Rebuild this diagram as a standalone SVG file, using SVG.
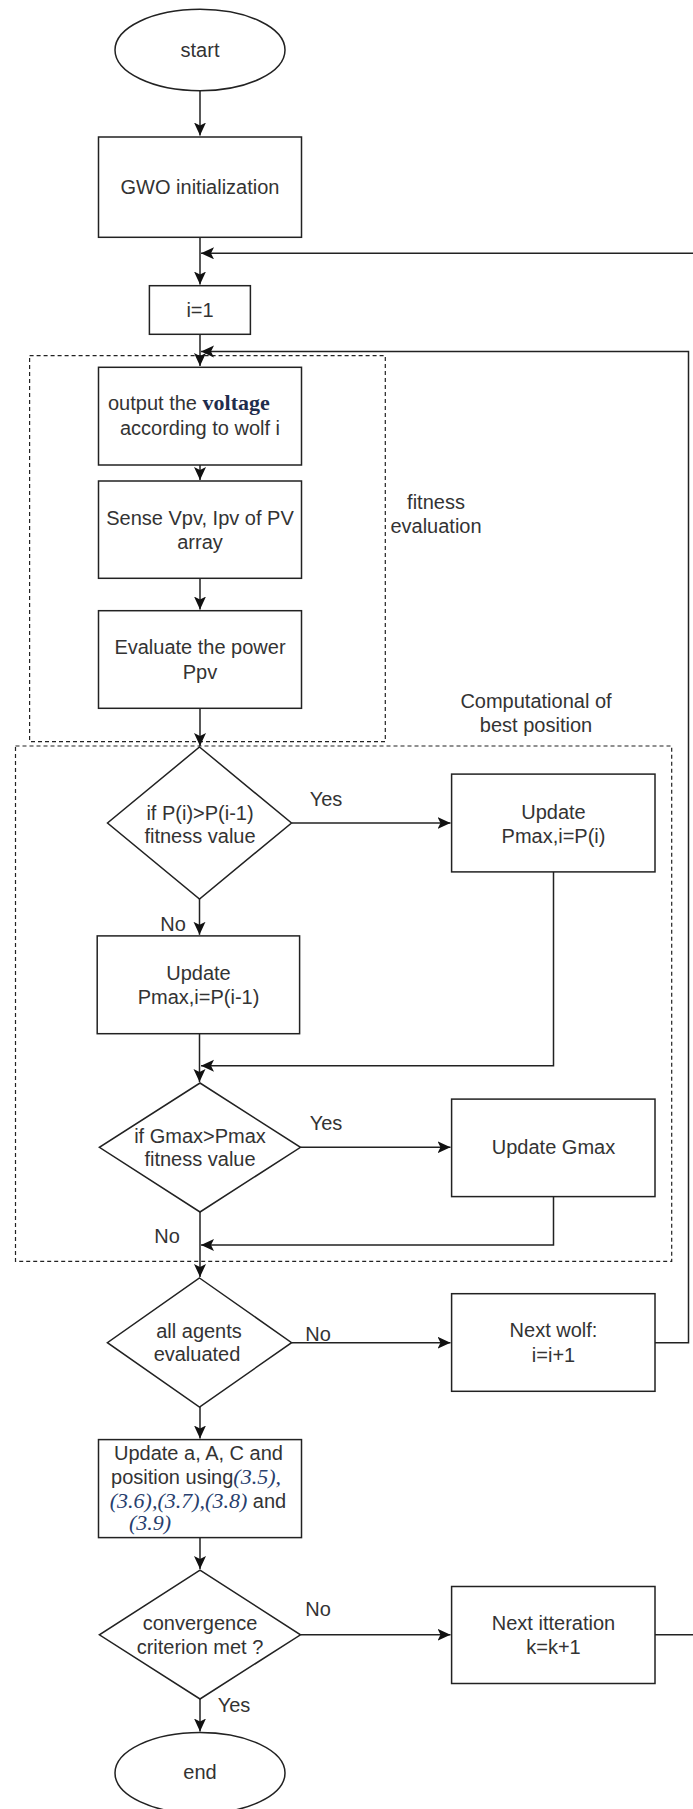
<svg xmlns="http://www.w3.org/2000/svg" width="693" height="1809" viewBox="0 0 693 1809">
<style>
.shape{fill:#ffffff;stroke:#222;stroke-width:1.5}
.group{fill:none;stroke:#222;stroke-width:1.2;stroke-dasharray:4 3}
.edge{fill:none;stroke:#222;stroke-width:1.5}
text{font-family:"Liberation Sans",Arial,sans-serif;font-size:20px;fill:#333;text-anchor:middle}
.serif{font-family:"Liberation Serif","Times New Roman",serif;fill:#1f2d4d}
.eq{font-family:"Liberation Serif","Times New Roman",serif;font-style:italic;font-size:22px;fill:#28406e}
</style>
<defs>
<marker id="arr" markerUnits="userSpaceOnUse" markerWidth="14" markerHeight="13" refX="13" refY="6" orient="auto">
<path d="M0,0 L13,6 L0,12 L3,6 z" fill="#111"/>
</marker>
</defs>
<rect width="693" height="1809" fill="#ffffff"/>

<g id="groups">
<rect id="fitness-group" class="group" x="29.6" y="355.7" width="355.7" height="386"/>
<rect id="best-group" class="group" x="15.5" y="746" width="656.2" height="515.3"/>
<g id="fitness-label"><text x="436" y="509">fitness</text><text x="436" y="533">evaluation</text></g>
<g id="best-label"><text x="536" y="708">Computational of</text><text x="536" y="732">best position</text></g>
</g>

<g id="connectors">
<path class="edge" d="M200,91 V135.5" marker-end="url(#arr)"/>
<path class="edge" d="M200,237.3 V284.5" marker-end="url(#arr)"/>
<path class="edge" d="M655,1634.8 H720 V253.3 H201" marker-end="url(#arr)"/>
<path class="edge" d="M200,334.3 V366" marker-end="url(#arr)"/>
<path class="edge" d="M655,1342.7 H688.5 V351.5 H201" marker-end="url(#arr)"/>
<path class="edge" d="M200,465 V480" marker-end="url(#arr)"/>
<path class="edge" d="M200,578.3 V609.5" marker-end="url(#arr)"/>
<path class="edge" d="M200,708.3 V746" marker-end="url(#arr)"/>
<path class="edge" d="M291.5,823 H450.5" marker-end="url(#arr)"/>
<path class="edge" d="M199.5,899 V934.8" marker-end="url(#arr)"/>
<path class="edge" d="M199.5,1033.7 V1082" marker-end="url(#arr)"/>
<path class="edge" d="M553.5,871.9 V1065.7 H201" marker-end="url(#arr)"/>
<path class="edge" d="M300.5,1147.3 H450.5" marker-end="url(#arr)"/>
<path class="edge" d="M553.5,1196.6 V1245 H201" marker-end="url(#arr)"/>
<path class="edge" d="M200,1212 V1277" marker-end="url(#arr)"/>
<path class="edge" d="M291.6,1342.7 H450.5" marker-end="url(#arr)"/>
<path class="edge" d="M200,1407 V1438.5" marker-end="url(#arr)"/>
<path class="edge" d="M200,1537.5 V1569" marker-end="url(#arr)"/>
<path class="edge" d="M300.5,1634.8 H450.5" marker-end="url(#arr)"/>
<path class="edge" d="M200,1699 V1731.5" marker-end="url(#arr)"/>
<text x="326" y="806">Yes</text>
<text x="173" y="931">No</text>
<text x="326" y="1130">Yes</text>
<text x="167" y="1243">No</text>
<text x="318" y="1341">No</text>
<text x="318" y="1616">No</text>
<text x="234" y="1712">Yes</text>
</g>

<g id="start">
<ellipse class="shape" cx="200" cy="50" rx="85" ry="40.7"/>
<text x="200" y="57">start</text>
</g>
<g id="gwo-init">
<rect class="shape" x="98.5" y="137" width="203" height="100.3"/>
<text x="200" y="194">GWO initialization</text>
</g>
<g id="i-init">
<rect class="shape" x="149.4" y="285.7" width="101" height="48.6"/>
<text x="200" y="317">i=1</text>
</g>
<g id="output-voltage">
<rect class="shape" x="98.5" y="367.3" width="203" height="97.7"/>
<text x="108" y="410" style="text-anchor:start">output the <tspan class="serif" font-size="22px" font-weight="bold">voltage</tspan></text>
<text x="200" y="435">according to wolf i</text>
</g>
<g id="sense">
<rect class="shape" x="98.5" y="481" width="203" height="97.3"/>
<text x="200" y="525">Sense Vpv, Ipv of PV</text>
<text x="200" y="549">array</text>
</g>
<g id="evaluate">
<rect class="shape" x="98.5" y="610.7" width="203" height="97.6"/>
<text x="200" y="654">Evaluate the power</text>
<text x="200" y="679">Ppv</text>
</g>
<g id="decision-p">
<polygon class="shape" points="199.5,747 291.5,823 199.5,899 107.5,823"/>
<text x="200" y="820">if P(i)&gt;P(i-1)</text>
<text x="200" y="843">fitness value</text>
</g>
<g id="update-pi">
<rect class="shape" x="451.6" y="774.1" width="203.4" height="97.8"/>
<text x="553.5" y="819">Update</text>
<text x="553.5" y="843">Pmax,i=P(i)</text>
</g>
<g id="update-pi1">
<rect class="shape" x="97.2" y="935.9" width="202.4" height="97.8"/>
<text x="198.5" y="980">Update</text>
<text x="198.5" y="1004">Pmax,i=P(i-1)</text>
</g>
<g id="decision-g">
<polygon class="shape" points="200,1083 300.5,1147.3 200,1212 99.4,1147.3"/>
<text x="200" y="1143">if Gmax&gt;Pmax</text>
<text x="200" y="1166">fitness value</text>
</g>
<g id="update-gmax">
<rect class="shape" x="451.6" y="1099.1" width="203.4" height="97.5"/>
<text x="553.5" y="1154">Update Gmax</text>
</g>
<g id="decision-agents">
<polygon class="shape" points="199.5,1278 291.6,1342.7 199.5,1407 107.4,1342.7"/>
<text x="199" y="1338">all agents</text>
<text x="197" y="1361">evaluated</text>
</g>
<g id="next-wolf">
<rect class="shape" x="451.6" y="1293.7" width="203.4" height="97.6"/>
<text x="553.5" y="1337">Next wolf:</text>
<text x="553.5" y="1362">i=i+1</text>
</g>
<g id="update-position">
<rect class="shape" x="98.5" y="1439.6" width="203" height="98"/>
<text x="198.5" y="1460">Update a, A, C and</text>
<text x="196" y="1484">position using<tspan class="eq">(3.5),</tspan></text>
<text x="198" y="1508"><tspan class="eq">(3.6),(3.7),(3.8)</tspan> and</text>
<text x="129" y="1530" style="text-anchor:start"><tspan class="eq">(3.9)</tspan></text>
</g>
<g id="decision-conv">
<polygon class="shape" points="200,1570.2 300.5,1634.8 200,1699 99.4,1634.8"/>
<text x="200" y="1630">convergence</text>
<text x="200" y="1654">criterion met ?</text>
</g>
<g id="next-iteration">
<rect class="shape" x="451.6" y="1586.5" width="203.4" height="97"/>
<text x="553.5" y="1630">Next itteration</text>
<text x="553.5" y="1654">k=k+1</text>
</g>
<g id="end">
<ellipse class="shape" cx="200" cy="1773" rx="85" ry="40.5"/>
<text x="200" y="1779">end</text>
</g>
</svg>
